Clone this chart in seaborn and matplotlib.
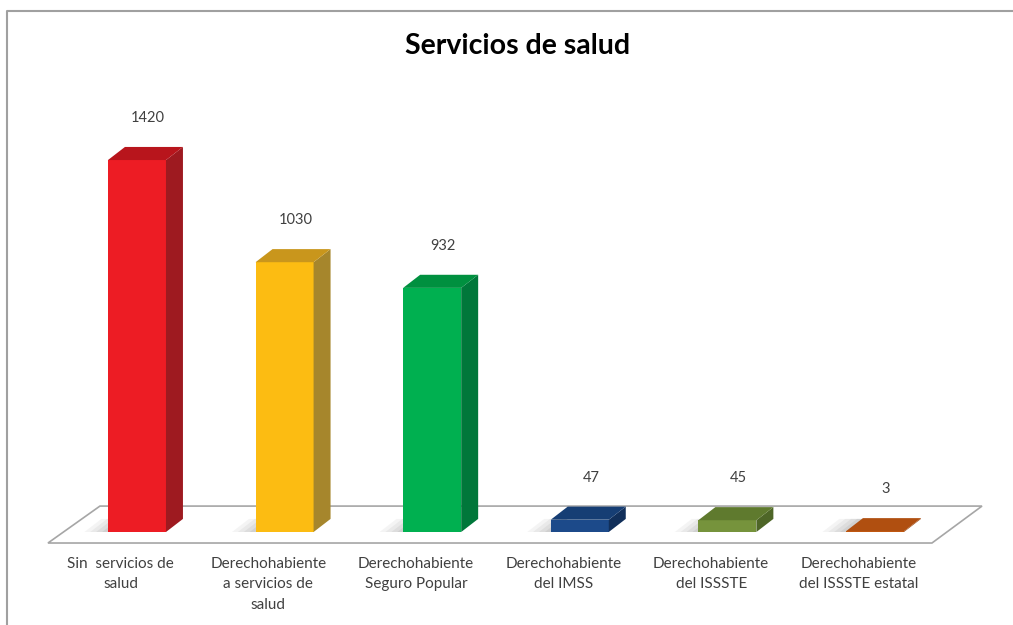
"""Servicios de salud: 3D-style bar chart (Excel look) drawn with seaborn."""

import matplotlib

matplotlib.use("Agg")

import matplotlib.pyplot as plt
import seaborn as sns
from matplotlib.lines import Line2D
from matplotlib.patches import Polygon

categories = [
    "Sin  servicios de\nsalud",
    "Derechohabiente\na servicios de\nsalud",
    "Derechohabiente\nSeguro Popular",
    "Derechohabiente\ndel IMSS",
    "Derechohabiente\ndel ISSSTE",
    "Derechohabiente\ndel ISSSTE estatal",
]
values = [1420, 1030, 932, 47, 45, 3]
value_labels = ["1420", "1030", "932", "47", "45", "3"]

front_colors = ["#ED1C24", "#FCBC12", "#00B050", "#1C4A8A", "#76933C", "#C55A11"]
top_colors = ["#B8151C", "#C9961C", "#00903F", "#163E74", "#5F7A2E", "#B04F10"]
side_colors = ["#9E1A20", "#A6862C", "#00773A", "#112F5A", "#4E6627", "#9A460F"]

# depth of the fake 3D extrusion, in data units (x: categories, y: values)
DX, DY = 0.115, 50

sns.set_theme(style="white")
plt.rcParams["font.family"] = ["Lato", "DejaVu Sans"]

fig = plt.figure(figsize=(10.13, 6.25), dpi=100)
ax = fig.add_axes([0, 0, 1, 1])

sns.barplot(
    x=categories, y=values, hue=categories, palette=front_colors,
    width=0.393, legend=False, ax=ax, zorder=3, linewidth=0, saturation=1,
)
bars = sorted((b for c in ax.containers for b in c), key=lambda b: b.get_x())

ax.set_xlim(-0.928, 5.935)
ax.set_ylim(-355, 2031)
ax.axis("off")

# floor
ax.add_patch(Polygon(
    [(-0.603, -42), (5.386, -42), (5.725, 99), (-0.251, 99)],
    closed=True, facecolor="white", edgecolor="#A6A6A6", lw=1.2, zorder=1,
))

for i, p in enumerate(bars):
    x0, w, h = p.get_x(), p.get_width(), p.get_height()
    # soft shadow on the floor, fading to the left
    for k, a in enumerate([0.10, 0.12, 0.15, 0.18]):
        off = 0.16 - 0.04 * k
        ax.add_patch(Polygon(
            [(x0 - off, 0), (x0 + 0.01, 0), (x0 + DX, DY), (x0 + DX - off, DY)],
            closed=True, facecolor="#9A9A9A", edgecolor="none", alpha=a, zorder=2,
        ))
    ax.add_patch(Polygon(
        [(x0 + w, 0), (x0 + w + DX, DY), (x0 + w + DX, h + DY), (x0 + w, h)],
        closed=True, facecolor=side_colors[i], edgecolor="none", zorder=3,
    ))
    ax.add_patch(Polygon(
        [(x0, h), (x0 + DX, h + DY), (x0 + w + DX, h + DY), (x0 + w, h)],
        closed=True, facecolor=top_colors[i], edgecolor="none", zorder=3,
    ))
    ax.text(x0 + w / 2 + 0.075, h + 160, value_labels[i], ha="center",
            va="center", fontsize=10.5, color="#404040")
    ax.text(x0 + w / 2 - 0.11, -95, categories[i], ha="center", va="top",
            fontsize=11, color="#404040", linespacing=1.6)

fig.text(0.511, 0.926, "Servicios de salud", ha="center", va="center",
         fontsize=20.5, fontweight="bold", color="black")

# chart-area border (top and left edges visible)
fig.add_artist(Line2D([7 / 1013, 7 / 1013, 1], [0, 1 - 11 / 625, 1 - 11 / 625],
                      transform=fig.transFigure, color="#A0A0A0", lw=1.5))

fig.savefig("out.png", dpi=100, facecolor="white")
